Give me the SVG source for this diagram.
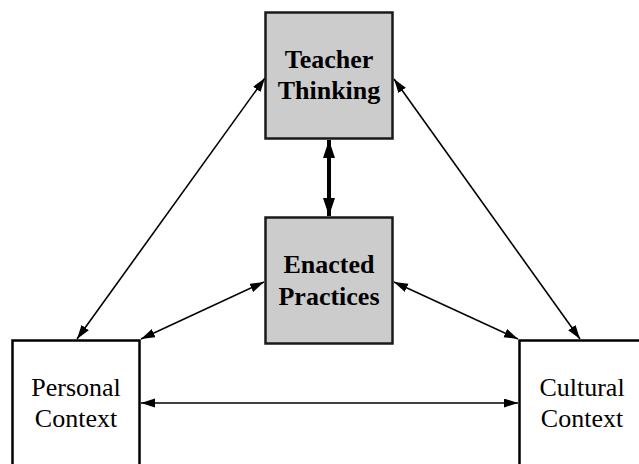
<svg xmlns="http://www.w3.org/2000/svg" width="639" height="464" viewBox="0 0 639 464">
<style>
.box{fill:#cccccc;stroke:#1a1a1a;stroke-width:2.5}
.ctx{fill:#ffffff;stroke:#000000;stroke-width:2.5}
.t{font-family:"Liberation Serif","Times New Roman",serif;font-size:26px;text-anchor:middle;fill:#000}
.b{font-weight:bold}
.c{stroke:#000;stroke-width:1.6;fill:none;marker-start:url(#ah);marker-end:url(#ah)}
.ck{stroke:#000;stroke-width:4;fill:none;marker-start:url(#ahk);marker-end:url(#ahk)}
</style>
<defs>
<marker id="ah" markerUnits="userSpaceOnUse" markerWidth="15" markerHeight="10" refX="14" refY="4.5" orient="auto-start-reverse" viewBox="0 0 15 10">
<path d="M0,0 L14,4.5 L0,9 z" fill="#000"/>
</marker>
<marker id="ahk" markerUnits="userSpaceOnUse" markerWidth="19" markerHeight="13" refX="18" refY="6" orient="auto-start-reverse" viewBox="0 0 19 13">
<path d="M0,0 L18,6 L0,12 z" fill="#000"/>
</marker>
</defs>
<rect width="639" height="464" fill="#fff"/>
<g id="connectors">
<line class="c" x1="77" y1="339" x2="265" y2="78"/>
<line class="c" x1="141" y1="339" x2="264" y2="282"/>
<line class="c" x1="394" y1="79" x2="580" y2="339"/>
<line class="c" x1="394" y1="282" x2="518" y2="339"/>
<line class="c" x1="141" y1="403" x2="518" y2="403"/>
<line class="ck" x1="329" y1="140" x2="329" y2="216"/>
</g>
<g id="teacher-thinking">
<rect class="box" x="265.5" y="12.5" width="127" height="126"/>
<text class="t b" x="329" y="68">Teacher</text>
<text class="t b" x="329" y="99">Thinking</text>
</g>
<g id="enacted-practices">
<rect class="box" x="265.5" y="217.5" width="127" height="126"/>
<text class="t b" x="329" y="273">Enacted</text>
<text class="t b" x="329" y="305">Practices</text>
</g>
<g id="personal-context">
<rect class="ctx" x="12.5" y="340.5" width="127" height="140"/>
<text class="t" x="76" y="396">Personal</text>
<text class="t" x="76" y="427">Context</text>
</g>
<g id="cultural-context">
<rect class="ctx" x="519.5" y="340.5" width="127" height="140"/>
<text class="t" x="582" y="396">Cultural</text>
<text class="t" x="582" y="427">Context</text>
</g>
</svg>
